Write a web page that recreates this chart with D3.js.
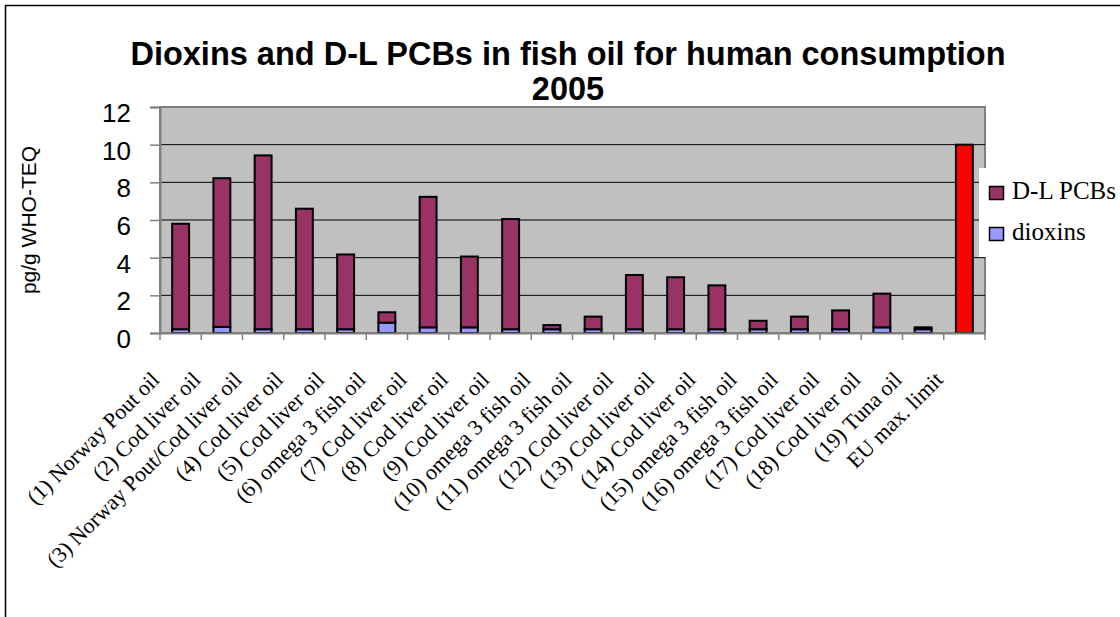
<!DOCTYPE html>
<html>
<head>
<meta charset="utf-8">
<script src="https://cdn.jsdelivr.net/npm/d3@7"></script>
<style>
body { margin: 0; background: #fff; }
svg { display: block; }
</style>
</head>
<body>
<script>

var categories = ["(1) Norway Pout oil", "(2) Cod liver oil", "(3) Norway Pout/Cod liver oil",
  "(4) Cod liver oil", "(5) Cod liver oil", "(6) omega 3 fish oil", "(7) Cod liver oil",
  "(8) Cod liver oil", "(9) Cod liver oil", "(10) omega 3 fish oil", "(11) omega 3 fish oil",
  "(12) Cod liver oil", "(13) Cod liver oil", "(14) Cod liver oil", "(15) omega 3 fish oil",
  "(16) omega 3 fish oil", "(17) Cod liver oil", "(18) Cod liver oil", "(19) Tuna oil", "EU max. limit"];

var dioxins = [0.2, 0.32, 0.2, 0.2, 0.2, 0.55, 0.3, 0.3, 0.2, 0.2, 0.2, 0.2, 0.2, 0.2, 0.2, 0.2, 0.2, 0.3, 0.2, 0];
var pcbs    = [5.6, 7.9, 9.23, 6.4, 3.97, 0.55, 6.93, 3.76, 5.85, 0.22, 0.67, 2.88, 2.76, 2.33, 0.45, 0.67, 1.0, 1.79, 0.1, 0];
var limit   = [0, 0, 0, 0, 0, 0, 0, 0, 0, 0, 0, 0, 0, 0, 0, 0, 0, 0, 0, 10];

var yTicks = [0, 2, 4, 6, 8, 10, 12];
var legendNames = ["D-L PCBs", "dioxins"];

var width = 1120, height = 617;
var margin = {top: 107, right: 135, bottom: 284, left: 160};

var svg = d3.select("body").append("svg")
    .attr("width", width)
    .attr("height", height);

// chart border (right and bottom edges fall outside the picture)
svg.append("rect")
    .attr("x", 5.5).attr("y", 5.5)
    .attr("width", 1140).attr("height", 640)
    .attr("fill", "none")
    .attr("stroke", "#000")
    .attr("stroke-width", 1.5);

var x = d3.scaleBand().domain(categories)
    .range([margin.left, width - margin.right])
    .paddingInner(0.59).paddingOuter(0.295);
var y = d3.scaleLinear().domain([0, 12]).range([height - margin.bottom, margin.top]);

var x0 = margin.left, x1 = width - margin.right;

// plot area
svg.append("rect")
    .attr("x", x0).attr("y", y(12))
    .attr("width", x1 - x0).attr("height", y(0) - y(12))
    .attr("fill", "#c0c0c0")
    .attr("stroke", "#808080")
    .attr("stroke-width", 2);

// grid
svg.selectAll(".grid").data(yTicks.filter(function(d){ return d > 0 && d < 12; }))
  .enter().append("line")
    .attr("x1", x0).attr("x2", x1)
    .attr("y1", function(d){ return y(d); })
    .attr("y2", function(d){ return y(d); })
    .attr("stroke", "#000").attr("stroke-width", 1);

// y axis
var yAxis = d3.axisLeft(y).tickValues(yTicks).tickSize(10).tickPadding(19);
var gy = svg.append("g").attr("transform", "translate(" + x0 + ",0)").call(yAxis);
gy.select(".domain").attr("stroke", "#808080").attr("stroke-width", 2);
gy.selectAll(".tick line").attr("stroke", "#808080").attr("stroke-width", 1.5);
gy.selectAll("text")
    .attr("dy", "0.56em")
    .attr("font-family", "Liberation Sans, Arial, sans-serif")
    .attr("font-size", "26px").attr("fill", "#000");

svg.append("text")
    .attr("transform", "translate(36,220) rotate(-90)")
    .attr("text-anchor", "middle")
    .attr("font-family", "Liberation Sans, Arial, sans-serif")
    .attr("font-size", "21px")
    .text("pg/g WHO-TEQ");

// bars
var series = [
  {vals: dioxins, base: function(i){ return 0; }, color: "#9999ff"},
  {vals: pcbs, base: function(i){ return dioxins[i]; }, color: "#993366"},
  {vals: limit, base: function(i){ return 0; }, color: "#ff0000"}
];
series.forEach(function(s){
  svg.append("g").selectAll("rect")
    .data(categories.map(function(c, i){ return {c: c, v0: s.base(i), v1: s.base(i) + s.vals[i]}; })
      .filter(function(d){ return d.v1 > d.v0; }))
    .enter().append("rect")
      .attr("x", function(d){ return x(d.c); })
      .attr("width", x.bandwidth())
      .attr("y", function(d){ return y(d.v1); })
      .attr("height", function(d){ return y(d.v0) - y(d.v1); })
      .attr("fill", s.color)
      .attr("stroke", "#000")
      .attr("stroke-width", 2);
});

// x axis
var xAxis = d3.axisBottom(x).tickSize(0).tickFormat("");
var gx = svg.append("g").attr("transform", "translate(0," + y(0) + ")").call(xAxis);
gx.select(".domain").attr("stroke", "#808080").attr("stroke-width", 2);
svg.selectAll(".xtick").data(d3.range(categories.length + 1))
  .enter().append("line")
    .attr("x1", function(i){ return x0 + i * (x1 - x0) / categories.length; })
    .attr("x2", function(i){ return x0 + i * (x1 - x0) / categories.length; })
    .attr("y1", y(0)).attr("y2", y(0) + 7)
    .attr("stroke", "#808080").attr("stroke-width", 1.5);

svg.selectAll(".xlab").data(categories)
  .enter().append("text")
    .attr("transform", function(d){
      var cx = x(d) + x.bandwidth() / 2 - 20;
      return "translate(" + cx + "," + (y(0) + 48) + ") rotate(-45)";
    })
    .attr("text-anchor", "end")
    .attr("font-family", "Liberation Serif, Times New Roman, serif")
    .attr("font-size", "22px")
    .text(function(d){ return d; });

// title
var title = svg.append("text")
    .attr("text-anchor", "middle")
    .attr("font-family", "Liberation Sans, Arial, sans-serif")
    .attr("font-weight", "bold")
    .attr("font-size", "32.5px");
title.append("tspan").attr("x", 568).attr("y", 65).text("Dioxins and D-L PCBs in fish oil for human consumption");
title.append("tspan").attr("x", 568).attr("y", 100).text("2005");

// legend
var lg = svg.append("g").attr("transform", "translate(979,168)");
lg.append("rect").attr("width", 141).attr("height", 89).attr("fill", "#fff");
var legendColors = ["#993366", "#9999ff"];
legendNames.forEach(function(n, i){
  lg.append("rect")
    .attr("x", 10.5).attr("y", 18.5 + i * 41)
    .attr("width", 14).attr("height", 13)
    .attr("fill", legendColors[i])
    .attr("stroke", "#000").attr("stroke-width", 1.5);
  lg.append("text")
    .attr("x", 33).attr("y", 31 + i * 41)
    .attr("font-family", "Liberation Serif, Times New Roman, serif")
    .attr("font-size", "25px")
    .text(n);
});

</script>
</body>
</html>
